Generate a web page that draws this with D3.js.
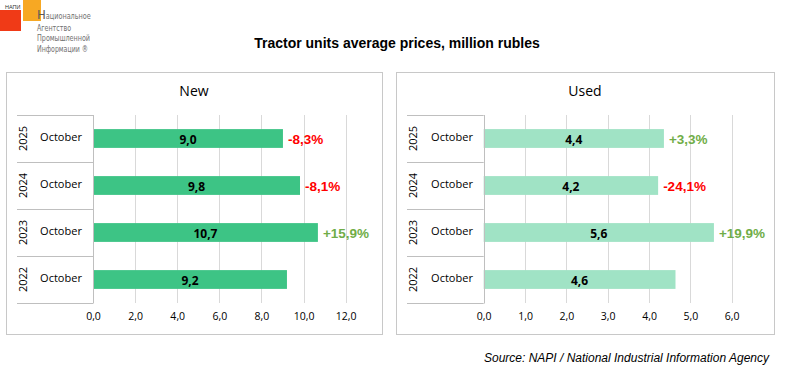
<!DOCTYPE html>
<html><head><meta charset="utf-8">
<script src="https://cdn.jsdelivr.net/npm/d3@7"></script>
<style>
body{margin:0;background:#fff;}
svg{display:block;}
</style></head>
<body><svg id="c" width="787" height="369"></svg>
<script>
const years = ["2025","2024","2023","2022"];
const months = ["October","October","October","October"];
const newValues = [9.02, 9.83, 10.68, 9.21];
const usedValues = [4.36, 4.22, 5.57, 4.64];
const newChanges = ["-8,3%","-8,1%","+15,9%",""];
const usedChanges = ["+3,3%","-24,1%","+19,9%",""];
const newTicks = [0,2,4,6,8,10,12];
const usedTicks = [0,1,2,3,4,5,6];
const title = "Tractor units average prices, million rubles";
const source = "Source: NAPI / National Industrial Information Agency";

const svg = d3.select("#c");
const FONT = "'Liberation Sans', Arial, sans-serif";
const fmt = v => d3.format(".1f")(v).replace(".", ",");

// Logo
const logo = svg.append("g");
logo.append("rect").attr("x",0).attr("y",10).attr("width",21).attr("height",21).attr("fill","#f03a17");
logo.append("rect").attr("x",23).attr("y",0).attr("width",18).attr("height",21).attr("fill","#f7a823");
logo.append("text").attr("x",5).attr("y",9).attr("font-family",FONT).attr("font-size",5.5).attr("fill","#333").text("НАПИ");
const ltxt = ["Национальное","Агентство","Промышленной","Информации ®"];
const lw = [54,34,53,51];
ltxt.forEach((t,i)=>{
  const tx = logo.append("text").attr("x",37).attr("y",[19,30.5,41,51.5][i])
    .attr("font-family","'DejaVu Sans Condensed','DejaVu Sans',sans-serif")
    .attr("font-size",9.5).attr("fill","#707070");
  if(i===0){
    tx.append("tspan").attr("font-size",13).attr("fill","#5a5a5a").text("Н");
    tx.append("tspan").attr("textLength",lw[0]-9).attr("lengthAdjust","spacingAndGlyphs").text(t.slice(1));
  } else tx.attr("textLength",lw[i]).attr("lengthAdjust","spacingAndGlyphs").text(t);
});

// Main title
svg.append("text").attr("x",397).attr("y",48).attr("text-anchor","middle")
  .attr("font-family",FONT).attr("font-weight","bold").attr("font-size",14).attr("fill","#000").text(title);

// Source
svg.append("text").attr("x",769).attr("y",362).attr("text-anchor","end")
  .attr("font-family",FONT).attr("font-style","italic").attr("font-size",12).attr("fill","#000").text(source);

function panel(cfg){
  const g = svg.append("g");
  g.append("rect").attr("x",cfg.bx+0.5).attr("y",72.5).attr("width",cfg.bw).attr("height",262)
    .attr("fill","#fff").attr("stroke","#c8c8c8");
  g.append("text").attr("x",cfg.tx).attr("y",96).attr("text-anchor","middle")
    .attr("font-family","'Open Sans', sans-serif").attr("font-size",14).attr("fill","#000").text(cfg.name);
  const x = d3.scaleLinear().domain([0, cfg.ticks[cfg.ticks.length-1]]).range([cfg.x0, cfg.x1]);
  const y = d3.scaleBand().domain(years).range([115,303]).paddingInner(0.6).paddingOuter(0.3);
  const yb = d3.scaleBand().domain(years).range([115,303]);
  // gridlines
  g.append("g").selectAll("line").data(cfg.ticks.slice(1)).join("line")
    .attr("x1",d=>Math.round(x(d))+0.5).attr("x2",d=>Math.round(x(d))+0.5)
    .attr("y1",115).attr("y2",303).attr("stroke","#d9d9d9");
  // bars
  g.append("g").selectAll("rect").data(cfg.values).join("rect")
    .attr("x",x(0)).attr("y",(d,i)=>y(years[i]))
    .attr("width",d=>x(d)-x(0)).attr("height",y.bandwidth()).attr("fill",cfg.color);
  // value labels
  g.append("g").selectAll("text").data(cfg.values).join("text")
    .attr("x",d=>(x(0)+x(d))/2).attr("y",(d,i)=>y(years[i])+y.bandwidth()/2+5.5)
    .attr("text-anchor","middle").attr("font-family","'Open Sans', sans-serif").attr("font-weight","bold")
    .attr("font-size",12).attr("fill","#000").text(d=>fmt(d));
  // change labels
  g.append("g").selectAll("text").data(cfg.changes).join("text")
    .attr("x",(d,i)=>x(cfg.values[i])+5).attr("y",(d,i)=>y(years[i])+y.bandwidth()/2+5)
    .attr("font-family",FONT).attr("font-weight","bold").attr("font-size",13.5)
    .attr("fill",d=>d.startsWith("-")?"#ff0000":"#70ad47").text(d=>d);
  // axis
  const ax = g.append("g").attr("transform",`translate(0,303)`)
    .call(d3.axisBottom(x).tickValues(cfg.ticks).tickSize(0).tickPadding(10).tickFormat(fmt));
  ax.select(".domain").remove();
  ax.selectAll("text").attr("font-family","'Open Sans', sans-serif").attr("font-size",10.5).attr("fill","#000");
  // category frame
  const cg = g.append("g").attr("stroke","#bfbfbf").attr("fill","none");
  cg.append("line").attr("x1",Math.round(x(0))+0.5).attr("x2",Math.round(x(0))+0.5).attr("y1",115).attr("y2",303.5);
  [115,...years.map(d=>yb(d)+yb.bandwidth())].forEach(v=>{
    cg.append("line").attr("x1",cfg.lx).attr("x2",x(0)).attr("y1",Math.round(v)+0.5).attr("y2",Math.round(v)+0.5);
  });
  years.forEach((yr,i)=>{
    const cy = yb(yr)+yb.bandwidth()/2;
    g.append("text").attr("transform",`translate(${cfg.yx},${cy}) rotate(-90)`).attr("text-anchor","middle")
      .attr("dy","0.35em").attr("font-family","'Open Sans', sans-serif").attr("font-size",11).attr("fill","#000").text(yr);
    g.append("text").attr("x",cfg.mx).attr("y",cy-1.5).attr("text-anchor","middle").attr("dy","0.35em")
      .attr("font-family","'Open Sans', sans-serif").attr("font-size",11).attr("fill","#000").text(months[i]);
  });
}

panel({name:"New",bx:6,bw:376,tx:194,x0:93,x1:345.7,ticks:newTicks,values:newValues,changes:newChanges,
  color:"#3dc485",lx:17,yx:23,mx:61});
panel({name:"Used",bx:396,bw:378,tx:585,x0:483.7,x1:731.7,ticks:usedTicks,values:usedValues,changes:usedChanges,
  color:"#a0e3c5",lx:407,yx:413,mx:452});
</script></body></html>
